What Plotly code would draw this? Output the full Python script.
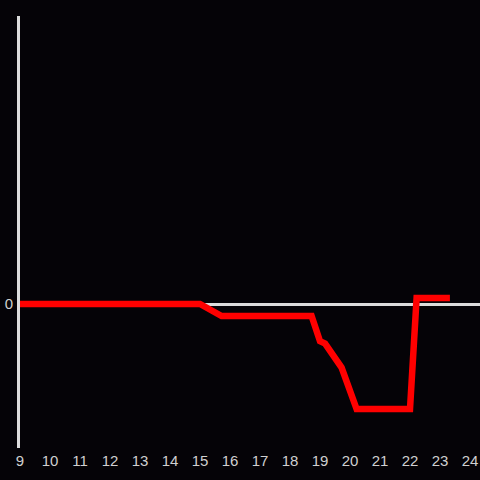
import plotly.graph_objects as go

hours = [9, 10, 11, 12, 13, 14, 15, 15.72, 18.72, 19.0, 19.17, 19.72, 20.0, 20.22, 22.0, 22.22, 23.33]
values = [0, 0, 0, 0, 0, 0, 0, -1.0, -1.0, -3.1, -3.3, -5.3, -7.3, -8.75, -8.75, 0.5, 0.5]
x_ticks = list(range(9, 25))

fig = go.Figure()
fig.add_trace(go.Scatter(x=hours, y=values, mode="lines",
                         line=dict(color="#ff0000", width=6.5), hoverinfo="skip"))

fig.update_layout(
    width=480, height=480,
    margin=dict(l=20, r=0, t=16, b=32),
    paper_bgcolor="#050307", plot_bgcolor="#050307",
    showlegend=False,
    font=dict(family="Liberation Sans", size=15, color="#d0d0d0"),
)
fig.update_xaxes(range=[9, 24 + 1 / 3], tickvals=x_ticks, ticktext=[str(t) for t in x_ticks],
                 showgrid=False, zeroline=False, showline=False, ticks="", automargin=False,
                 ticklabelstandoff=2)
fig.update_yaxes(range=[-12, 24], tickvals=[0], showgrid=False, automargin=False,
                 zeroline=True, zerolinecolor="#dcdcdc", zerolinewidth=3,
                 showline=True, linecolor="#dcdcdc", linewidth=3, ticks="",
                 ticklabelstandoff=1)

fig.write_html("out.html", config={"displayModeBar": False},
               post_script="document.body.style.margin='0';document.body.style.overflow='hidden';document.body.style.background='#050307';")
